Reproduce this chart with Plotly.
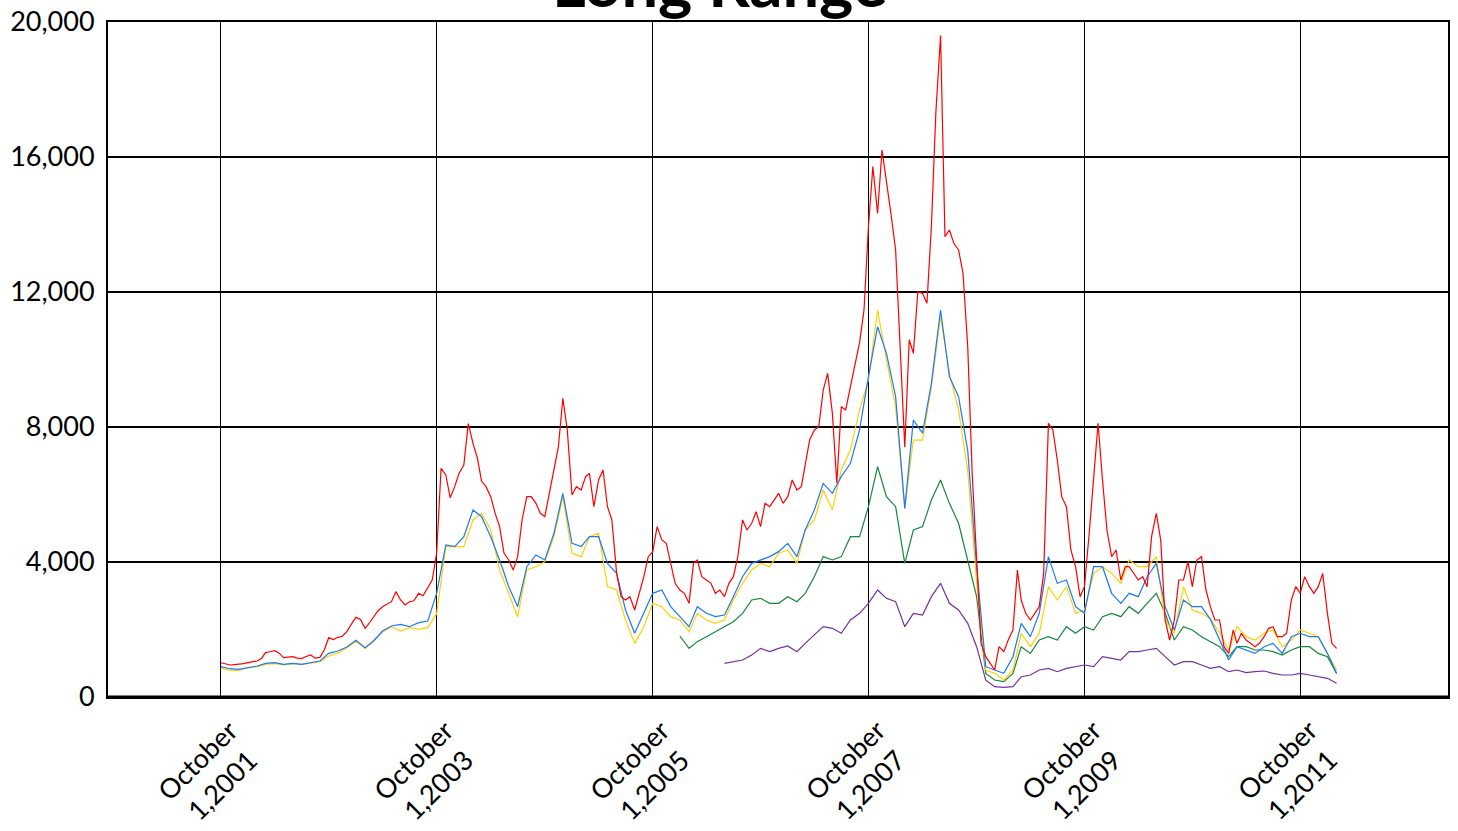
import plotly.graph_objects as go
import pandas as pd

# ---------------- data ----------------
monthly_dates = [d.strftime("%Y-%m-%d") for d in pd.date_range("2001-10-01", "2012-02-01", freq="MS")]
semi_dates = []
for d in pd.date_range("2001-10-01", "2012-02-01", freq="MS"):
    semi_dates.append(d.strftime("%Y-%m-01"))
    semi_dates.append(d.strftime("%Y-%m-16"))
semi_dates = semi_dates[:249]

red_values = [
    1016, 980, 948, 960, 968, 990,
    1016, 1040, 1067, 1150, 1314, 1340, 1373, 1300, 1165, 1180, 1195, 1150,
    1136, 1200, 1244, 1150, 1175, 1400, 1758, 1700, 1768, 1800, 1936, 2150,
    2360, 2300, 2034, 2200, 2380, 2550, 2676, 2750, 2824, 3121, 2874, 2726,
    2824, 2850, 3072, 3000, 3220, 3467, 4258, 6775, 6578, 5900, 6232, 6628,
    6874, 8100, 7517, 7072, 6400, 6233, 5935, 5442, 5047, 4258, 4060, 3763,
    4158, 5245, 5935, 5935, 5738, 5442, 5343, 6035, 6825, 7417, 8850, 7911,
    5986, 6232, 6134, 6528, 6627, 5639, 6430, 6726, 5639, 5245, 3664, 2973,
    2874, 2973, 2578, 3072, 3565, 4158, 4300, 5047, 4652, 4553, 3961, 3368,
    3170, 3072, 2775, 3961, 4060, 3565, 3467, 3368, 3072, 3170, 2973, 3368,
    3565, 4158, 5245, 4948, 5146, 5491, 5047, 5739, 5640, 5838, 6035, 5739,
    5936, 6430, 6134, 6232, 6923, 7615, 7911, 8010, 9096, 9590, 8405, 6331,
    8603, 8504, 9195, 9788, 10500, 11467, 13936, 15714, 14331, 16208, 15322, 14331,
    13245, 10380, 7400, 10586, 10182, 12000, 11961, 11664, 13936, 17293, 19600, 13640,
    13837, 13442, 13245, 12554, 10380, 6627, 4258, 1590, 1195, 998, 800, 1491,
    1343, 1689, 1985, 3763, 2874, 2479, 2282, 2479, 2676, 3664, 8109, 7911,
    7022, 5936, 5639, 4356, 3861, 2973, 3269, 4750, 6430, 8109, 6430, 4948,
    4158, 4356, 3467, 3861, 3861, 3664, 3467, 3565, 3269, 4750, 5443, 4651,
    2282, 1689, 2282, 3467, 3467, 4010, 3269, 4060, 4158, 3170, 2676, 2282,
    2282, 1491, 1293, 1985, 1590, 1887, 1689, 1590, 1491, 1590, 1787, 2035,
    2084, 1787, 1787, 1887, 2874, 3269, 3072, 3565, 3269, 3072, 3269, 3664,
    2479, 1590, 1442,
]

blue_values = [
    898, 838, 820,
    868, 918, 997, 1017, 968, 997, 968, 1017, 1067, 1294, 1363, 1481,
    1679, 1461, 1659, 1955, 2103, 2152, 2083, 2202, 2251, 3072, 4505, 4455,
    4750, 5541, 5343, 4750, 4060, 3269, 2676, 3861, 4208, 4060, 4850, 6035,
    4553, 4455, 4750, 4750, 3960, 3664, 2578, 1887, 2479, 3072, 3170, 2677,
    2380, 2084, 2677, 2479, 2380, 2430, 2973, 3565, 3960, 4060, 4159, 4307,
    4553, 4159, 4948, 5541, 6331, 6035, 6529, 6923, 7911, 9492, 10972, 10182,
    8899, 5590, 8208, 7821, 9295, 11467, 9492, 8900, 7300, 3860, 898, 800,
    700, 1195, 2183, 1788, 2479, 4158, 3368, 3467, 2677, 2479, 3861, 3861,
    3072, 2775, 3072, 2973, 3565, 3960, 2677, 1986, 2874, 2677, 2677, 2300,
    1689, 1096, 1491, 1392, 1293, 1491, 1590, 1293, 1788, 1887, 1788, 1788,
    1293, 700,
]

yellow_values = [
    853, 790, 790,
    868, 900, 968, 990, 950, 990, 968, 1000, 1050, 1215, 1300, 1450,
    1650, 1440, 1640, 1930, 2080, 1955, 2054, 2005, 2054, 2469, 4455, 4455,
    4455, 5245, 5442, 4948, 3763, 3072, 2380, 3763, 3861, 4010, 4750, 5935,
    4258, 4158, 4750, 4850, 3269, 3170, 2282, 1590, 2084, 2775, 2677, 2380,
    2282, 1936, 2479, 2282, 2183, 2282, 2874, 3368, 3763, 3960, 3861, 4258,
    4356, 3960, 4948, 5245, 6134, 5541, 6726, 7318, 8504, 9393, 11467, 9985,
    8603, 5590, 7614, 7614, 9195, 11270, 9590, 8504, 6700, 3400, 800, 700,
    504, 800, 1887, 1491, 1887, 3269, 2874, 3269, 2479, 2578, 3664, 3861,
    3664, 3368, 4060, 3861, 3861, 4158, 2282, 1887, 3269, 2578, 2479, 2330,
    1887, 1392, 2084, 1788, 1689, 1887, 1985, 1491, 1689, 1985, 1887, 1788,
    1293, 800,
]

green_values = [None] * 51 + [
    1807, 1442, 1640, 1787, 1936, 2084, 2232, 2479, 2874, 2924, 2775, 2775,
    2973, 2825, 3071, 3565, 4159, 4060, 4159, 4751, 4750, 5639, 6825, 5936,
    5639, 3960, 4948, 5048, 5837, 6430, 5738, 5146, 4060, 2973, 700, 504,
    454, 700, 1491, 1293, 1689, 1788, 1689, 2084, 1887, 2084, 1985, 2380,
    2479, 2380, 2677, 2479, 2775, 3072, 2479, 1689, 2084, 1985, 1788, 1640,
    1491, 1195, 1491, 1491, 1392, 1392, 1343, 1244, 1392, 1491, 1491, 1293,
    1195, 700,
]

purple_values = [None] * 56 + [
    998, 1047, 1096, 1244, 1442, 1343, 1442,
    1511, 1343, 1590, 1837, 2084, 2035, 1887, 2282, 2479, 2775, 3170, 2924,
    2825, 2084, 2479, 2430, 2973, 3368, 2775, 2578, 2183, 1491, 500, 306,
    286, 306, 602, 652, 800, 849, 750, 849, 898, 948, 898, 1195,
    1146, 1096, 1343, 1343, 1392, 1442, 1195, 948, 1047, 1047, 948, 850,
    898, 750, 800, 720, 750, 770, 700, 652, 652, 700, 652, 602,
    553, 405,
]

tick_dates = ["2001-10-01", "2003-10-01", "2005-10-01", "2007-10-01", "2009-10-01", "2011-10-01"]
tick_labels = ["October<br>1,2001", "October<br>1,2003", "October<br>1,2005",
               "October<br>1,2007", "October<br>1,2009", "October<br>1,2011"]
y_ticks = [0, 4000, 8000, 12000, 16000, 20000]
y_labels = ["0", "4,000", "8,000", "12,000", "16,000", "20,000"]

FONT = "Lato"

fig = go.Figure()
series = [
    ("Purple", monthly_dates, purple_values, "#7430a0"),
    ("Green", monthly_dates, green_values, "#16873a"),
    ("Yellow", monthly_dates, yellow_values, "#ffd000"),
    ("Blue", monthly_dates, blue_values, "#1c78ff"),
    ("Red", semi_dates, red_values, "#ff0000"),
]
for name, xs, ys, col in series:
    fig.add_trace(go.Scatter(x=xs, y=ys, mode="lines", name=name,
                             line=dict(color=col, width=1.2), connectgaps=False))

fig.update_layout(
    width=1458, height=831,
    margin=dict(l=108, r=10, t=22, b=134, autoexpand=False),
    paper_bgcolor="white", plot_bgcolor="white",
    showlegend=False,
    font=dict(family=FONT, color="black"),
)
fig.update_xaxes(
    type="date", range=["2000-09-14", "2013-02-12"], automargin=False,
    tickmode="array", tickvals=tick_dates, showticklabels=False,
    showgrid=True, gridcolor="black", gridwidth=1,
    showline=True, linecolor="black", linewidth=2, mirror=True,
    ticks="", zeroline=False,
)
fig.update_yaxes(
    range=[0, 20000], tickmode="array", tickvals=y_ticks, ticktext=y_labels,
    tickfont=dict(size=27, family=FONT), automargin=False,
    showgrid=True, gridcolor="black", gridwidth=1.5,
    showline=True, linecolor="black", linewidth=2, mirror=True,
    ticks="", zeroline=False, ticklabelstandoff=6, ticklabeloverflow="allow",
)
fig.add_shape(type="line", xref="paper", yref="paper", x0=0, x1=1, y0=0, y1=0,
              line=dict(color="black", width=3))

# rotated, centre-aligned date labels
for d, lab in zip(tick_dates, tick_labels):
    fig.add_annotation(text=lab, x=d, xref="x", y=-0.111, yref="paper",
                       xshift=-11, xanchor="center", yanchor="middle",
                       textangle=-45, align="center", showarrow=False,
                       font=dict(size=27, family=FONT, color="black"))

fig.add_annotation(text="<b>Long Range</b>", xref="paper", yref="paper",
                   x=0.4567, y=1.059, xanchor="center", yanchor="middle",
                   showarrow=False, font=dict(size=65, family=FONT, color="black"))

fig.write_html("out.html", config={"displayModeBar": False},
               post_script="document.body.style.margin='0px';document.body.style.padding='0px';")
